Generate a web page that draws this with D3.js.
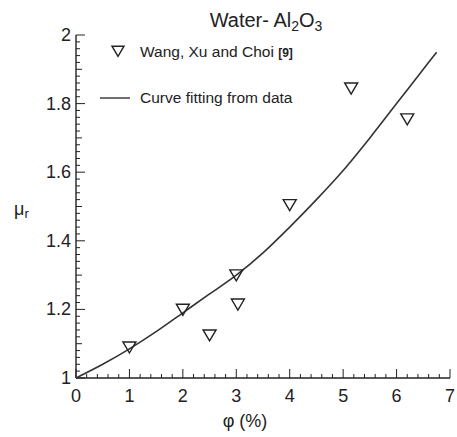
<!DOCTYPE html>
<html><head><meta charset="utf-8">
<script src="https://cdn.jsdelivr.net/npm/d3@7"></script>
<style>body{margin:0;background:#fff}svg{display:block}text{font-family:"Liberation Sans",Arial,sans-serif;fill:#222}</style>
</head><body>
<svg id="c" width="457" height="437"></svg>
<script>
const phiData = [1, 2, 2.5, 3, 3.03, 4, 5.15, 6.2];
const muData  = [1.09, 1.20, 1.125, 1.30, 1.215, 1.505, 1.845, 1.755];
const phiFit = [0, 0.5, 1, 1.5, 2, 2.5, 3, 3.5, 4, 4.5, 5, 5.5, 6, 6.5, 6.75];
const muFit  = [1, 1.04, 1.085, 1.135, 1.19, 1.245, 1.30, 1.365, 1.44, 1.52, 1.605, 1.70, 1.80, 1.90, 1.95];
const xTicks = [0, 1, 2, 3, 4, 5, 6, 7];
const yTicks = [1, 1.2, 1.4, 1.6, 1.8, 2];

const svg = d3.select("#c");
const x = d3.scaleLinear().domain([0, 7]).range([76, 450]);
const y = d3.scaleLinear().domain([1, 2]).range([378, 35]);
const col = "#222";

svg.append("line").attr("x1", x(0)).attr("x2", x(7)).attr("y1", y(1)).attr("y2", y(1)).attr("stroke", col).attr("stroke-width", 1.4);
svg.append("line").attr("x1", x(0)).attr("x2", x(0)).attr("y1", y(1)).attr("y2", y(2)).attr("stroke", col).attr("stroke-width", 1.4);

const yMinor = d3.range(0, 51).map(i => 1 + i * 0.02);
svg.append("g").selectAll("line").data(yMinor).join("line")
  .attr("x1", x(0)).attr("y1", d => y(d)).attr("y2", d => y(d))
  .attr("x2", (d, i) => x(0) + (i % 10 === 0 ? 9 : (i % 5 === 0 ? 6 : 4)))
  .attr("stroke", col).attr("stroke-width", 1);
svg.append("g").selectAll("text").data(yTicks).join("text")
  .attr("x", 71).attr("y", d => y(d) + 6).attr("text-anchor", "end")
  .attr("font-size", 18).text(d => d3.format("~g")(d));

const xMinor = d3.range(0, 36).map(i => i * 0.2);
svg.append("g").selectAll("line").data(xMinor).join("line")
  .attr("y1", y(1)).attr("x1", d => x(d)).attr("x2", d => x(d))
  .attr("y2", (d, i) => y(1) - (i % 5 === 0 ? 9 : 4))
  .attr("stroke", col).attr("stroke-width", 1);
svg.append("g").selectAll("text").data(xTicks).join("text")
  .attr("x", d => x(d)).attr("y", 402).attr("text-anchor", "middle")
  .attr("font-size", 18).text(d => d);

const line = d3.line().x(d => x(d[0])).y(d => y(d[1])).curve(d3.curveMonotoneX);
svg.append("path").datum(phiFit.map((p, i) => [p, muFit[i]]))
  .attr("d", line).attr("fill", "none").attr("stroke", "#333").attr("stroke-width", 1.6);

const tri = (cx, cy, s) => `M${cx - s},${cy - s * 0.8}L${cx + s},${cy - s * 0.8}L${cx},${cy + s * 0.9}Z`;
svg.append("g").selectAll("path").data(phiData.map((p, i) => [p, muData[i]])).join("path")
  .attr("d", d => tri(x(d[0]), y(d[1]), 6.5))
  .attr("fill", "none").attr("stroke", col).attr("stroke-width", 1.4);

const t = svg.append("text").attr("x", 266).attr("y", 27).attr("text-anchor", "middle").attr("font-size", 20);
t.append("tspan").text("Water- Al");
t.append("tspan").attr("font-size", 14).attr("dy", 4).text("2");
t.append("tspan").attr("dy", -4).text("O");
t.append("tspan").attr("font-size", 14).attr("dy", 4).text("3");

svg.append("path").attr("d", tri(118, 51, 6)).attr("fill", "none").attr("stroke", col).attr("stroke-width", 1.4);
const l1 = svg.append("text").attr("x", 140).attr("y", 57).attr("font-size", 15.5);
l1.append("tspan").text("Wang, Xu and Choi ");
l1.append("tspan").attr("font-size", 12).attr("font-weight", "bold").text("[9]");
svg.append("line").attr("x1", 100).attr("x2", 130).attr("y1", 98).attr("y2", 98).attr("stroke", "#333").attr("stroke-width", 1.4);
svg.append("text").attr("x", 140).attr("y", 103).attr("font-size", 15.5).text("Curve fitting from data");

const yl = svg.append("text").attr("x", 14).attr("y", 215).attr("font-size", 18);
yl.append("tspan").text("μ");
yl.append("tspan").attr("font-size", 13).attr("dy", 3).text("r");
svg.append("text").attr("x", 245).attr("y", 427).attr("text-anchor", "middle").attr("font-size", 18).text("φ (%)");
</script>
</body></html>
